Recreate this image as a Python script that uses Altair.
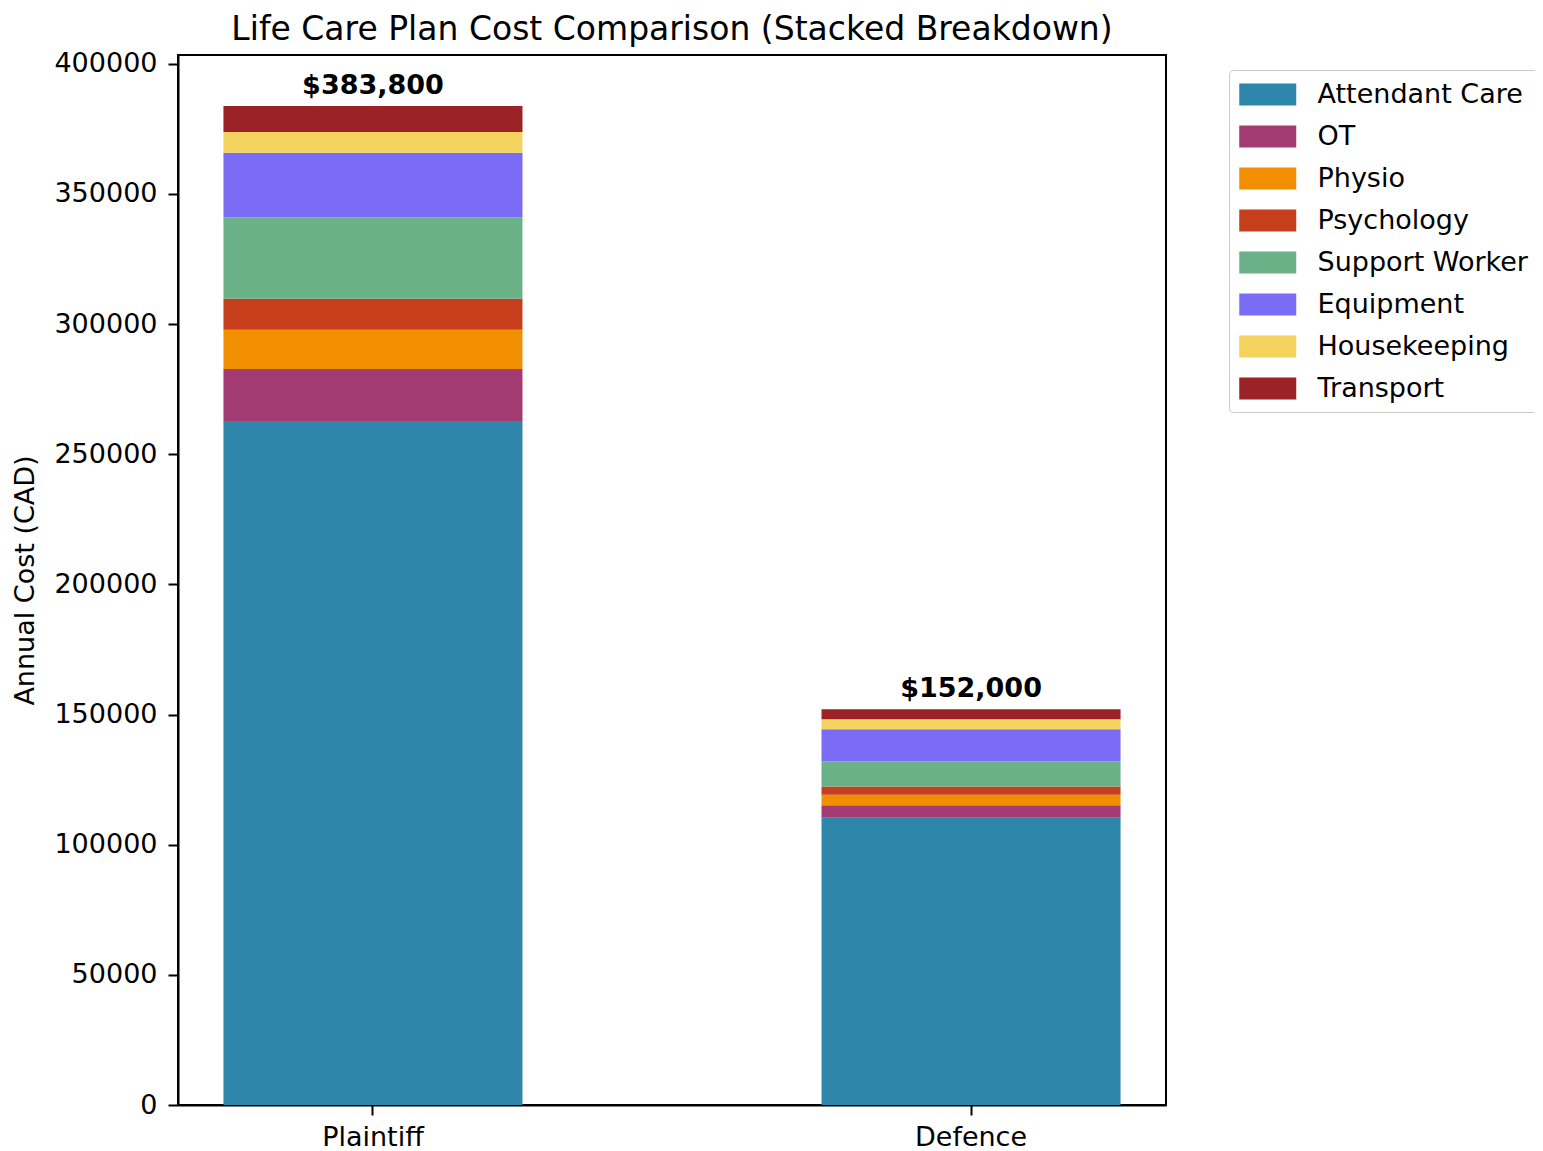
import altair as alt
import pandas as pd

categories = ["Attendant Care", "OT", "Physio", "Psychology", "Support Worker",
              "Equipment", "Housekeeping", "Transport"]
sides = ["Plaintiff", "Defence"]
plaintiff_values = [262800, 20000, 15000, 12000, 31200, 24800, 8000, 10000]
defence_values = [110400, 4800, 4000, 3200, 9600, 12400, 3800, 3800]
colors = ["#2E86AB", "#A23B72", "#F18F01", "#C73E1D", "#6AB187",
          "#7B6CF5", "#F4D35E", "#9B2226"]
y_ticks = [0, 50000, 100000, 150000, 200000, 250000, 300000, 350000, 400000]

rows = []
for side, vals in zip(sides, [plaintiff_values, defence_values]):
    for i, (c, v) in enumerate(zip(categories, vals)):
        rows.append({"side": side, "category": c, "value": v, "idx": i})
df = pd.DataFrame(rows)

FONT = "DejaVu Sans"

x_enc = alt.X("side:N", sort=sides,
              scale=alt.Scale(paddingInner=0.5, paddingOuter=0.076),
              axis=alt.Axis(title=None, labelAngle=0, labelFontSize=27, labelFont=FONT,
                            labelColor="black", tickSize=10, tickWidth=2, tickColor="black",
                            labelPadding=9, domainColor="black", domainWidth=2))

bars = alt.Chart(df).mark_bar().encode(
    x=x_enc,
    y=alt.Y("value:Q", stack="zero",
            scale=alt.Scale(domain=[0, 403400], nice=False),
            axis=alt.Axis(title="Annual Cost (CAD)", values=y_ticks, format="d", grid=False,
                          labelFontSize=27, labelFont=FONT, labelColor="black",
                          titleFontSize=27, titleFont=FONT, titleFontWeight="normal",
                          titleColor="black", titlePadding=14,
                          tickSize=10, tickWidth=2, tickColor="black", labelPadding=11,
                          domainColor="black", domainWidth=2)),
    color=alt.Color("category:N", sort=categories,
                    scale=alt.Scale(domain=categories, range=colors),
                    legend=alt.Legend(title=None, orient="none", legendX=1051, legendY=15,
                                      labelFontSize=27, labelFont=FONT, labelColor="black",
                                      labelLimit=0,
                                      symbolType="M-1,-0.78H3V0.78H-1Z", symbolSize=812,
                                      symbolStrokeWidth=0, symbolOpacity=1,
                                      labelOffset=49.5, rowPadding=14, padding=10,
                                      strokeColor="#cccccc", fillColor="white",
                                      cornerRadius=4)),
    order=alt.Order("idx:Q", sort="ascending"),
)

totals = alt.Chart(df).mark_text(
    font=FONT, fontSize=27, fontWeight="bold", baseline="alphabetic", dy=-12, color="black"
).encode(
    x=alt.X("side:N", sort=sides),
    y=alt.Y("sum(value):Q"),
    text=alt.Text("sum(value):Q", format="$,.0f"),
)

chart = alt.layer(bars, totals).properties(
    width=988,
    height=1050,
    background="white",
    title=alt.TitleParams("Life Care Plan Cost Comparison (Stacked Breakdown)",
                          fontSize=33, font=FONT, fontWeight="normal", color="black",
                          anchor="middle", offset=3),
    autosize=alt.AutoSizeParams(type="none"),
    padding={"left": 170, "top": 47, "right": 369, "bottom": 48},
).configure_view(stroke="black", strokeWidth=2)

chart.save("out.html", embed_options={"renderer": "svg", "actions": False})
